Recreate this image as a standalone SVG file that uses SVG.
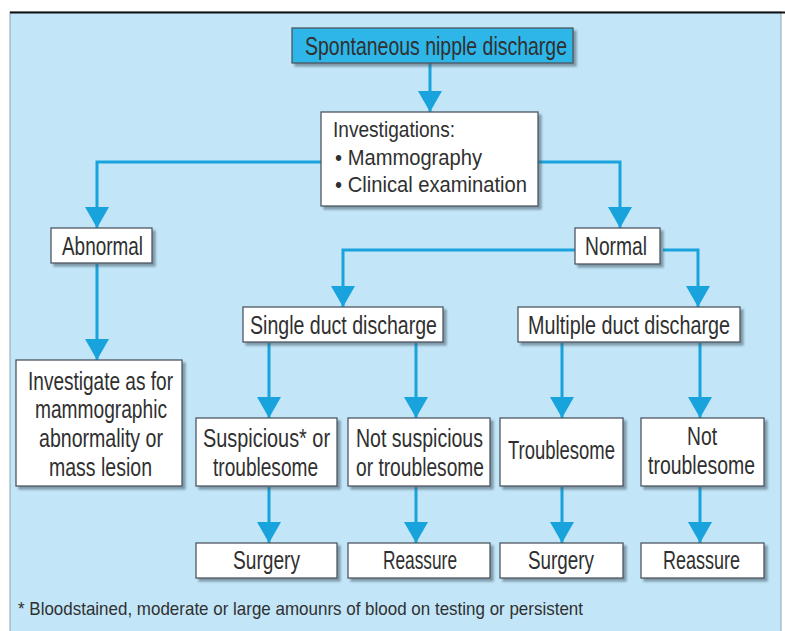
<svg xmlns="http://www.w3.org/2000/svg" width="785" height="631" viewBox="0 0 785 631">
<defs>
<style>
.bx{fill:#ffffff;stroke:#4d5760;stroke-width:1.3;filter:url(#sh)}
.top{fill:#2db6e8;stroke:#4d5760;stroke-width:1.3;filter:url(#sh)}
.t{font-family:"Liberation Sans Narrow","Liberation Sans",Arial,sans-serif;font-size:25px;fill:#303030}
.ti{font-size:22px}
.fn{font-size:19px}
.c{fill:none;stroke:#18a3dd;stroke-width:3;marker-end:url(#ah)}
</style>
<filter id="sh" x="-10%" y="-10%" width="130%" height="140%">
<feDropShadow dx="3" dy="3" stdDeviation="1.2" flood-color="#4a5a66" flood-opacity="0.55"/>
</filter>
<marker id="ah" markerUnits="userSpaceOnUse" markerWidth="22" markerHeight="26" refX="21" refY="12" orient="auto">
<path d="M0,0 L21,12 L0,24 Z" fill="#18a3dd"/>
</marker>
</defs>
<rect x="0" y="0" width="785" height="631" fill="#ffffff"/>
<rect x="10" y="12" width="771" height="625" fill="#c2e6f8" stroke="#8aa6b8" stroke-width="1"/>
<line x1="10" y1="12.5" x2="785" y2="12.5" stroke="#111" stroke-width="2"/>

<g id="connectors">
<path class="c" d="M430,63 V112"/>
<path class="c" d="M321,162 H97 V228"/>
<path class="c" d="M538,162 H620 V228"/>
<path class="c" d="M97,264 V360"/>
<path class="c" d="M575,250 H343 V307"/>
<path class="c" d="M663,250 H698 V307"/>
<path class="c" d="M269,343 V418"/>
<path class="c" d="M416,343 V418"/>
<path class="c" d="M562,343 V418"/>
<path class="c" d="M700,343 V418"/>
<path class="c" d="M269,487 V543"/>
<path class="c" d="M416,487 V543"/>
<path class="c" d="M562,487 V543"/>
<path class="c" d="M700,487 V543"/>
</g>

<g id="n-start"><rect class="top" x="292" y="28" width="281" height="35"/>
<text class="t" x="305" y="55" style="font-size:26px" textLength="262" lengthAdjust="spacingAndGlyphs">Spontaneous nipple discharge</text></g>

<g id="n-investigations"><rect class="bx" x="321" y="112" width="217" height="94"/>
<text class="t ti" x="333" y="137" textLength="122" lengthAdjust="spacingAndGlyphs">Investigations:</text>
<text class="t ti" x="335" y="165" textLength="147" lengthAdjust="spacingAndGlyphs">• Mammography</text>
<text class="t ti" x="335" y="192" textLength="192" lengthAdjust="spacingAndGlyphs">• Clinical examination</text></g>

<g id="n-abnormal"><rect class="bx" x="51" y="228" width="101" height="35"/>
<text class="t" x="62" y="255" textLength="81" lengthAdjust="spacingAndGlyphs">Abnormal</text></g>

<g id="n-normal"><rect class="bx" x="575" y="228" width="85" height="36"/>
<text class="t" x="585" y="255" textLength="62" lengthAdjust="spacingAndGlyphs">Normal</text></g>

<g id="n-investigate"><rect class="bx" x="16" y="360" width="166" height="126"/>
<text class="t" x="28" y="390" textLength="145" lengthAdjust="spacingAndGlyphs">Investigate as for</text>
<text class="t" x="35" y="418" textLength="132" lengthAdjust="spacingAndGlyphs">mammographic</text>
<text class="t" x="39" y="447" textLength="124" lengthAdjust="spacingAndGlyphs">abnormality or</text>
<text class="t" x="49" y="476" textLength="103" lengthAdjust="spacingAndGlyphs">mass lesion</text></g>

<g id="n-single"><rect class="bx" x="243" y="307" width="200" height="35"/>
<text class="t" x="250" y="334" textLength="187" lengthAdjust="spacingAndGlyphs">Single duct discharge</text></g>

<g id="n-multiple"><rect class="bx" x="518" y="307" width="222" height="35"/>
<text class="t" x="528" y="334" textLength="202" lengthAdjust="spacingAndGlyphs">Multiple duct discharge</text></g>

<g id="n-suspicious"><rect class="bx" x="196" y="418" width="141" height="68"/>
<text class="t" x="203" y="447" textLength="127" lengthAdjust="spacingAndGlyphs">Suspicious* or</text>
<text class="t" x="213" y="476" textLength="105" lengthAdjust="spacingAndGlyphs">troublesome</text></g>

<g id="n-notsuspicious"><rect class="bx" x="348" y="418" width="142" height="68"/>
<text class="t" x="356" y="447" textLength="127" lengthAdjust="spacingAndGlyphs">Not suspicious</text>
<text class="t" x="356" y="476" textLength="128" lengthAdjust="spacingAndGlyphs">or troublesome</text></g>

<g id="n-troublesome"><rect class="bx" x="500" y="418" width="123" height="68"/>
<text class="t" x="508" y="459" textLength="107" lengthAdjust="spacingAndGlyphs">Troublesome</text></g>

<g id="n-nottroublesome"><rect class="bx" x="641" y="418" width="123" height="68"/>
<text class="t" x="687" y="445" textLength="30" lengthAdjust="spacingAndGlyphs">Not</text>
<text class="t" x="648" y="474" textLength="107" lengthAdjust="spacingAndGlyphs">troublesome</text></g>

<g id="n-surgery1"><rect class="bx" x="196" y="543" width="141" height="35"/>
<text class="t" x="233" y="569" textLength="67" lengthAdjust="spacingAndGlyphs">Surgery</text></g>

<g id="n-reassure1"><rect class="bx" x="348" y="543" width="142" height="35"/>
<text class="t" x="383" y="569" textLength="74" lengthAdjust="spacingAndGlyphs">Reassure</text></g>

<g id="n-surgery2"><rect class="bx" x="500" y="543" width="123" height="35"/>
<text class="t" x="528" y="569" textLength="66" lengthAdjust="spacingAndGlyphs">Surgery</text></g>

<g id="n-reassure2"><rect class="bx" x="641" y="543" width="123" height="35"/>
<text class="t" x="663" y="569" textLength="77" lengthAdjust="spacingAndGlyphs">Reassure</text></g>

<text class="t fn" x="18" y="615" textLength="565" lengthAdjust="spacingAndGlyphs">* Bloodstained, moderate or large amounrs of blood on testing or persistent</text>
</svg>
